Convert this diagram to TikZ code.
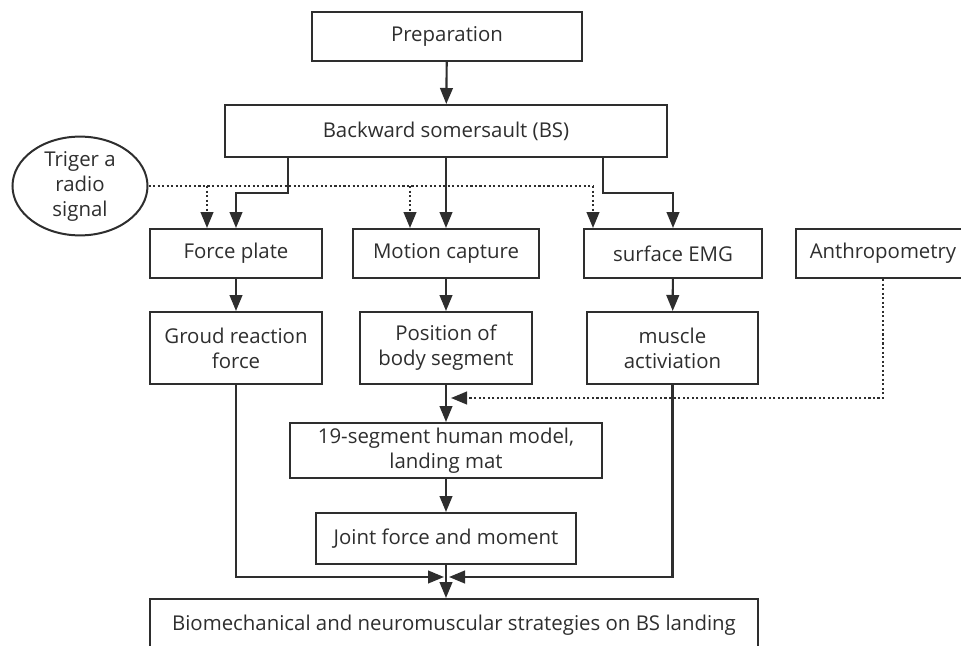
\documentclass[tikz,border=0pt]{standalone}
\usepackage{fontspec}
\setmainfont{Open Sans}
\usetikzlibrary{positioning,arrows.meta,shapes.geometric}
\definecolor{ink}{HTML}{2E2E2E}

\begin{document}
\begin{tikzpicture}[
    x=0.75pt, y=-0.75pt,
    node/.style={%
      draw=ink,
      rectangle,
      line width=1.5pt,
      text=ink,
      align=center,
      inner sep=0pt,
      font=\fontsize{15.3}{18.75}\selectfont,
    },
    line/.style={draw=ink, line width=1.6pt},
    arr/.style={line, -{Triangle[length=12pt,width=9.5pt]}},
    dots/.style={dash pattern=on 1.6pt off 1.8pt},
  ]
    \useasboundingbox (0,0) rectangle (961,646);

    \node [node, minimum width=202.5pt, minimum height=36.75pt] (A) at (447,36) {Preparation};
    \node [node, minimum width=331.5pt, minimum height=39pt] (B) at (446,131) {Backward somersault (BS)};
    \node [node, ellipse, minimum width=101.25pt, minimum height=65.25pt] (T) at (80,186) {Triger a\\radio\\signal};

    \node [node, minimum width=129pt, minimum height=36.75pt] (C) at (236,253.5) {Force plate};
    \node [node, minimum width=139.5pt, minimum height=36.75pt] (D) at (446,253.5) {Motion capture};
    \node [node, minimum width=133.5pt, minimum height=36.75pt] (E) at (673,253.5) {surface EMG};
    \node [node, minimum width=130.5pt, minimum height=36.75pt] (F) at (883,253.5) {Anthropometry};

    \node [node, minimum width=129pt, minimum height=54pt] (G) at (236,348) {Groud reaction\\force};
    \node [node, minimum width=129pt, minimum height=54pt] (H) at (446,348) {Position of\\body segment};
    \node [node, minimum width=128.25pt, minimum height=54pt] (I) at (672.5,348) {muscle\\activiation};

    \node [node, minimum width=234pt, minimum height=41.25pt] (J) at (446,450.5) {19-segment human model,\\landing mat};
    \node [node, minimum width=195pt, minimum height=38.25pt] (K) at (446,538.5) {Joint force and moment};
    \node [node, minimum width=456pt, minimum height=39pt] (L) at (454,625) {Biomechanical and neuromuscular strategies on BS landing};

    \coordinate (bl) at (288,157);
    \coordinate (br) at (603,157);
    \coordinate (t1) at (207,186);
    \coordinate (t2) at (410,186);
    \coordinate (t3) at (593,186);
    \coordinate (m1) at (451,398);
    \coordinate (m2) at (444,577);
    \coordinate (m3) at (449,577);

    \draw [arr] (A) -- (B);
    \draw [arr] (bl) -- ++(0,36) -| (C);
    \draw [arr] (B) -- (D);
    \draw [arr] (br) -- ++(0,36) -| (E);

    \draw [line, dots] (T) -- (t3);
    \draw [arr, dots] (t1) -- (t1 |- C.north);
    \draw [arr, dots] (t2) -- (t2 |- D.north);
    \draw [arr, dots] (t3) -- (t3 |- E.north);

    \draw [arr] (C) -- (G);
    \draw [arr] (D) -- (H);
    \draw [arr] (E) -- (I);

    \draw [arr] (H) -- (J);
    \draw [arr, dots] (F) |- (m1);
    \draw [arr] (J) -- (K);
    \draw [arr] (K) -- (K |- L.north);
    \draw [arr] (G) |- (m2);
    \draw [arr] (I) |- (m3);
\end{tikzpicture}
\end{document}
